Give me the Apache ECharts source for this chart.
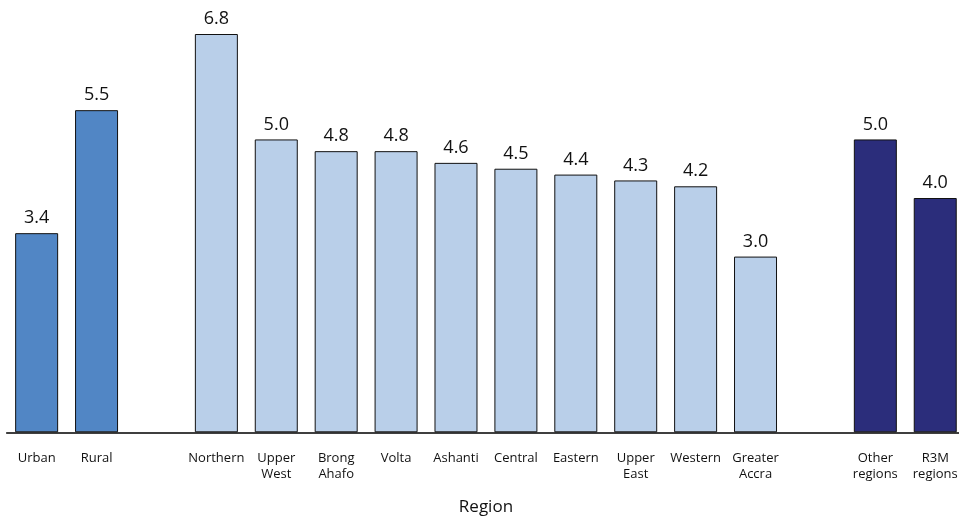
<!DOCTYPE html>
<html><head><meta charset="utf-8">
<script src="https://cdn.jsdelivr.net/npm/echarts@6/dist/echarts.min.js"></script>
<style>html,body{margin:0;padding:0;background:#fff}#c{width:959px;height:519px}</style>
</head><body><div id="c"></div>
<script>
const categories = ['Urban','Rural','','Northern','Upper\nWest','Brong\nAhafo','Volta','Ashanti','Central','Eastern','Upper\nEast','Western','Greater\nAccra','','Other\nregions','R3M\nregions'];
const values = [3.4, 5.5, null, 6.8, 5.0, 4.8, 4.8, 4.6, 4.5, 4.4, 4.3, 4.2, 3.0, null, 5.0, 4.0];
const groups = [0,0,null,1,1,1,1,1,1,1,1,1,1,null,2,2];
const groupColors = ['#5186C5','#B9CFE9','#2B2D7B'];
const axisTitle = 'Region';

const font = '"Open Sans", "Noto Sans", sans-serif';
const data = values.map((v,i)=> v==null ? null : ({value:v, itemStyle:{color:groupColors[groups[i]]}}));
const chart = echarts.init(document.getElementById('c'));
chart.setOption({
  animation:false,
  grid:{left:6.7, right:-6.2, top:22.3, height:410, containLabel:false, outerBoundsMode:'none'},
  xAxis:{type:'category', data:categories,
    axisLine:{lineStyle:{color:'#000',width:1.5}},
    axisTick:{show:false},
    axisLabel:{color:'#111', fontSize:13, fontFamily:font, margin:18, lineHeight:16, interval:0},
    name:axisTitle, nameLocation:'middle', nameGap:66,
    nameTextStyle:{fontSize:17, color:'#111', fontFamily:font}
  },
  yAxis:{type:'value', min:0, max:7, show:false, splitLine:{show:false}},
  series:[{type:'bar', data:data, barWidth:43,
    itemStyle:{borderColor:'#111', borderWidth:1},
    label:{show:true, position:'top', distance:6, color:'#111', fontSize:18, fontFamily:font,
      formatter:p=>p.value.toFixed(1)}
  }]
});
</script></body></html>
